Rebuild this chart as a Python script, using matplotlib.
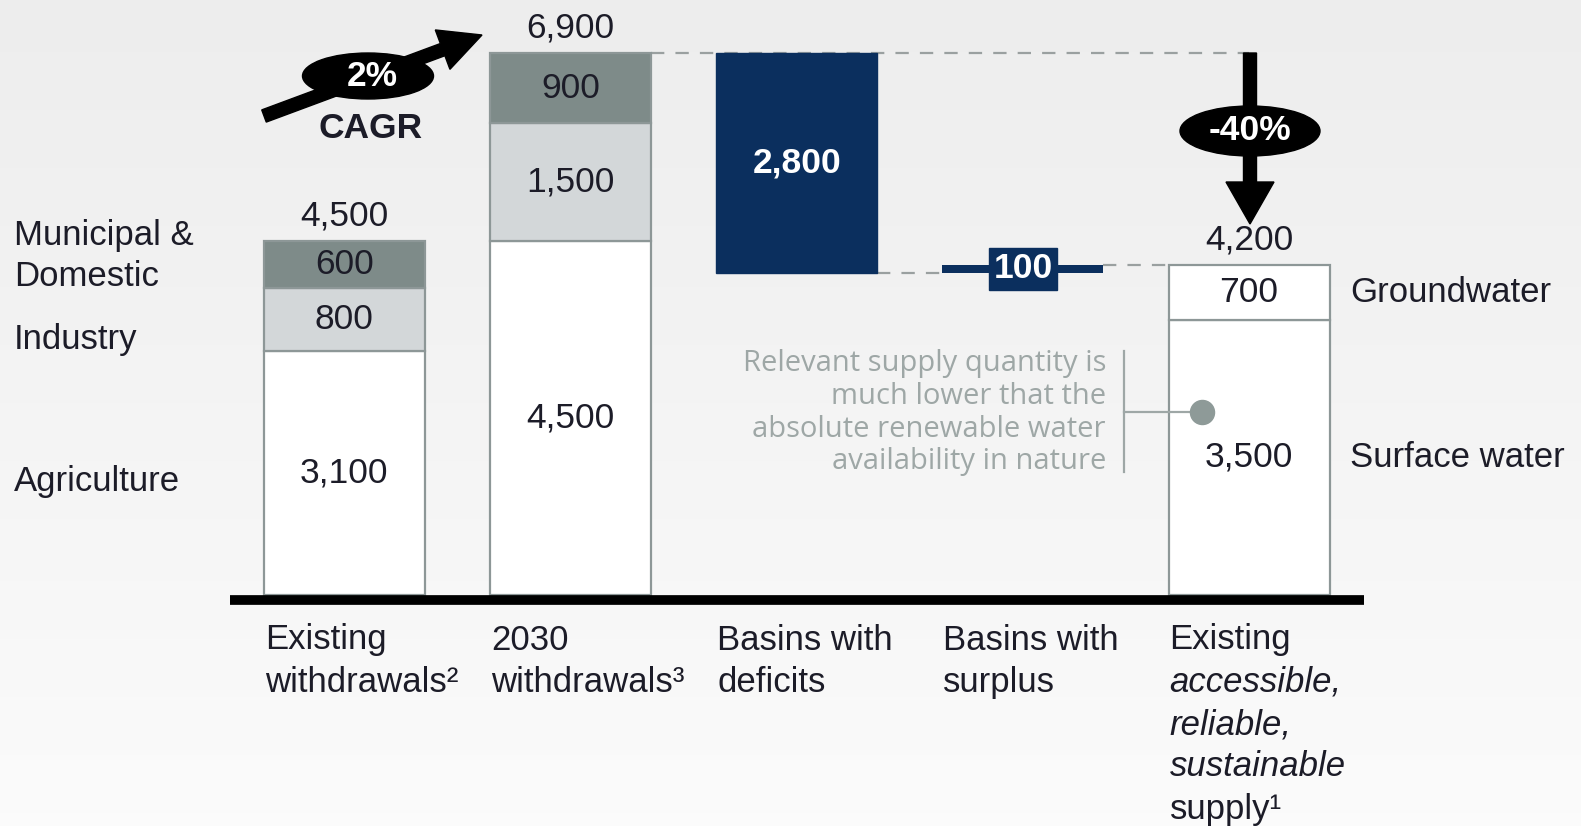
import numpy as np
import matplotlib
matplotlib.use("Agg")
import matplotlib.pyplot as plt
from matplotlib.patches import Ellipse, FancyArrow

plt.rcParams['font.family'] = ['Liberation Sans', 'DejaVu Sans']

# ---------------- data ----------------
categories = ["Existing\nwithdrawals²", "2030\nwithdrawals³", "Basins with\ndeficits",
              "Basins with\nsurplus", "Existing\naccessible,\nreliable,\nsustainable\nsupply¹"]
cat_italic = [[False, False], [False, False], [False, False], [False, False],
              [False, True, True, True, False]]
withdrawal_segments = ["Agriculture", "Industry", "Municipal &\nDomestic"]
existing_withdrawals = [3100, 800, 600]
withdrawals_2030 = [4500, 1500, 900]
deficit = 2800
surplus = 100
supply_segments = ["Surface water", "Groundwater"]
existing_supply = [3500, 700]
cagr_label = "2%"
cagr_text = "CAGR"
change_label = "-40%"
note_lines = ["Relevant supply quantity is", "much lower that the",
              "absolute renewable water", "availability in nature"]

# ---------------- style ----------------
W, H = 1581, 826
TXT = '#1c1c28'
EDGE = '#8d9797'
NAVY = '#0b2f5e'
W_COLORS = ['white', '#d3d7d9', '#7e8b89']
S_COLORS = ['white', 'white']
GREY_NOTE = '#9ea7a6'
FS = 25.5
LFS = 25

fig = plt.figure(figsize=(W / 100, H / 100), dpi=100)

# background gradient
bg = fig.add_axes([0, 0, 1, 1])
grad = np.linspace(0, 1, 256).reshape(-1, 1)
top_c = np.array([0.93, 0.93, 0.93])
bot_c = np.array([0.985, 0.985, 0.985])
img = top_c + (bot_c - top_c) * grad[:, :, None]
bg.imshow(img, aspect='auto', extent=[0, 1, 0, 1], origin='upper')
bg.axis('off')

# main data axes (x: category index, y: value)
X0, DX, Y0, SY = 344.3, 226.2, 595.0, 0.0786
ax = fig.add_axes([0, 0, 1, 1])
ax.patch.set_alpha(0)
ax.set_xlim(-X0 / DX, (W - X0) / DX)
ax.set_ylim(-(H - Y0) / SY, Y0 / SY)
ax.axis('off')

# overlay axes in pixel coordinates for decorations
ov = fig.add_axes([0, 0, 1, 1])
ov.patch.set_alpha(0)
ov.set_xlim(0, W)
ov.set_ylim(H, 0)
ov.axis('off')

bw = 0.712

def total_label(x, y, val):
    ax.annotate(f"{val:,}", xy=(x, y), xytext=(0, 18), textcoords='offset points',
                ha='center', va='center', fontsize=FS, color=TXT, zorder=5)

# stacked withdrawal bars
for i, vals in enumerate([existing_withdrawals, withdrawals_2030]):
    bottom = 0
    for v, c in zip(vals, W_COLORS):
        ax.bar(i, v, bw, bottom=bottom, color=c, edgecolor=EDGE, linewidth=1.6, zorder=2)
        ax.text(i, bottom + v / 2, f"{v:,}", ha='center', va='center',
                fontsize=FS, color=TXT, zorder=5)
        bottom += v
    total_label(i, bottom, bottom)

top2030 = sum(withdrawals_2030)
base = top2030 - deficit

# deficit bar
ax.bar(2, deficit, bw, bottom=base, color=NAVY, edgecolor=NAVY, linewidth=1, zorder=2)
ax.text(2, base + deficit / 2, f"{deficit:,}", ha='center', va='center',
        fontsize=FS, color='white', fontweight='bold', zorder=5)

# surplus bar (thin)
ax.bar(3, surplus, bw, bottom=base, color=NAVY, linewidth=0, zorder=2)
ax.text(3, base + surplus / 2, f"{surplus:,}", ha='center', va='center',
        fontsize=FS, color='white', fontweight='bold', zorder=5,
        bbox=dict(boxstyle='square,pad=0.12', facecolor=NAVY, edgecolor=NAVY))

# supply bar
bottom = 0
for v, c, name in zip(existing_supply, S_COLORS, supply_segments):
    ax.bar(4, v, bw, bottom=bottom, color=c, edgecolor=EDGE, linewidth=1.6, zorder=2)
    ax.text(4, bottom + v / 2, f"{v:,}", ha='center', va='center',
            fontsize=FS, color=TXT, zorder=5)
    ax.text(4 + bw / 2 + 0.09, bottom + v / 2, name, ha='left', va='center',
            fontsize=LFS, color=TXT, zorder=5)
    bottom += v
total_label(4, bottom, bottom)

# dashed connectors
dash_kw = dict(color='#9aa0a0', lw=1.6, dashes=(6, 5), zorder=1)
ax.plot([1 + bw / 2, 4], [top2030, top2030], **dash_kw)
ax.plot([2 + bw / 2, 3 - bw / 2], [base, base], **dash_kw)
ax.plot([3 + bw / 2, 4 - bw / 2], [base + surplus, base + surplus], **dash_kw)

# baseline
ov.plot([230, 1364], [600, 600], color='black', lw=7, solid_capstyle='butt', zorder=6)

# left segment labels
left_y = [[481], [339], [235, 277]]
for name, ys in zip(withdrawal_segments, left_y):
    for line, y in zip(name.split("\n"), ys):
        ov.text(14, y, line, ha='left', va='center', fontsize=LFS, color=TXT)

# category labels
for i, (cat, ital) in enumerate(zip(categories, cat_italic)):
    xpx = X0 + (i - bw / 2) * DX + 1
    for k, (line, it) in enumerate(zip(cat.split("\n"), ital)):
        ov.text(xpx, 640 + k * 42.3, line, ha='left', va='center', fontsize=LFS,
                color=TXT, style='italic' if it else 'normal')

# CAGR arrow and ellipse
ov.add_patch(FancyArrow(264, 116, 482 - 264, 35 - 116, width=13, head_width=42,
                        head_length=42, length_includes_head=True, color='black', zorder=7))
ov.add_patch(Ellipse((368, 76), 131, 46, color='black', zorder=8))
ov.text(372, 76, cagr_label, ha='center', va='center', fontsize=FS, color='white',
        fontweight='bold', zorder=9)
ov.text(371, 128, cagr_text, ha='center', va='center', fontsize=FS, color=TXT,
        fontweight='bold', zorder=9)

# -40% arrow
ov.add_patch(FancyArrow(1250, 53, 0, 224 - 53, width=13, head_width=48, head_length=42,
                        length_includes_head=True, color='black', zorder=7))
ov.add_patch(Ellipse((1250, 131), 140, 50, color='black', zorder=8))
ov.text(1250, 131, change_label, ha='center', va='center', fontsize=FS, color='white',
        fontweight='bold', zorder=9)

# note with bracket
for k, line in enumerate(note_lines):
    ov.text(1106, 364 + k * 32.6, line, ha='right', va='center', fontsize=21,
            color=GREY_NOTE, family=['Open Sans', 'DejaVu Sans'])
ov.plot([1124, 1124], [351, 472], color=GREY_NOTE, lw=1.6, zorder=7)
ov.plot([1124, 1202], [412, 412], color=GREY_NOTE, lw=1.6, zorder=7)
ov.scatter([1202], [412], s=300, color='#8e9a98', zorder=8)

fig.savefig("out.png", dpi=100)
